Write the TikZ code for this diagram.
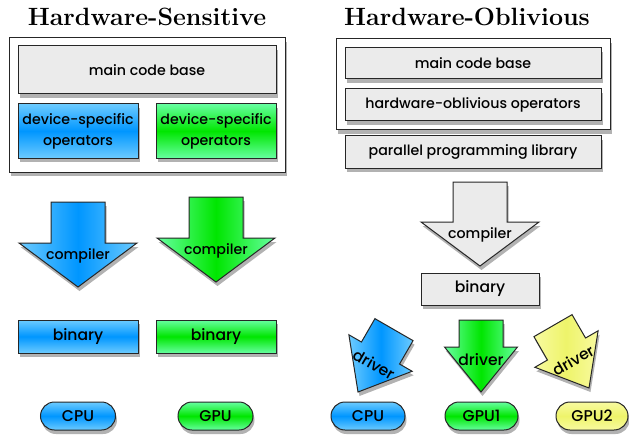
\documentclass[tikz,border=0pt]{standalone}
\usepackage{fontspec}
\newfontfamily\lab{Poppins}[UprightFont=* Medium]
\usetikzlibrary{shadows}
\definecolor{bmid}{HTML}{0096FF}
\definecolor{bedge}{HTML}{6CCBFF}
\definecolor{gmid}{HTML}{00E600}
\definecolor{gedge}{HTML}{66FFA0}
\definecolor{ymid}{HTML}{EEF46A}
\definecolor{yedge}{HTML}{F8FAA0}
\definecolor{gry}{HTML}{EBEBEB}
\tikzset{
  shd/.style={drop shadow={shadow xshift=1.5pt,shadow yshift=-4pt,fill=black,opacity=0.3}},
  lbl/.style={font=\lab\fontsize{14.2}{21}\selectfont, align=center, text=black},
  big/.style={font=\lab\fontsize{15.6}{18}\selectfont},
  plain/.style={lbl, draw=black!85, line width=1pt, inner sep=0pt, shd},
  graybox/.style={plain, fill=gry},
  bluebox/.style={plain, top color=bedge, bottom color=bedge, middle color=bmid},
  greenbox/.style={plain, top color=gedge, bottom color=gedge, middle color=gmid},
  yellowbox/.style={plain, top color=yedge, bottom color=yedge, middle color=ymid},
  pill/.style={big, minimum width=75pt, minimum height=28pt, rounded corners=14pt},
  title/.style={font=\bfseries\fontsize{25}{28}\selectfont},
  arrowfill/.style={draw=black!85, line width=1pt, shd},
  bluearr/.style={arrowfill, left color=bedge, right color=bedge, middle color=bmid},
  greenarr/.style={arrowfill, left color=gedge, right color=gedge, middle color=gmid},
  grayarr/.style={arrowfill, fill=gry},
  yellowarr/.style={arrowfill, left color=yedge, right color=yedge, middle color=ymid},
}
% #1 tip x, #2 tip y, #3 angle, #4 shaft width, #5 head width, #6 shaft len, #7 head len, #8 style, #9 label
\newcommand\fatarrow[9]{%
  \begin{scope}[shift={(#1,#2)}, rotate=#3]
    \path[#8] (-#4/2,-#6-#7) -- (#4/2,-#6-#7) -- (#4/2,-#7) -- (#5/2,-#7) -- (0,0)
      -- (-#5/2,-#7) -- (-#4/2,-#7) -- cycle;
    \node[lbl, rotate=#3] at (0,-#7+13) {#9};
  \end{scope}}
\newcommand\drv{{\fontsize{15.6}{18}\selectfont driver}}
\begin{document}
\begin{tikzpicture}[x=1pt,y=-1pt]
\useasboundingbox (0,0) rectangle (629,441);
% titles
\node[title] (tl) at (147,17) {Hardware-Sensitive};
\node[title] (tr) at (467,17) {Hardware-Oblivious};
% left panel
\node[plain, fill=white, minimum width=276pt, minimum height=134pt] (outerL) at (147,105) {};
\node[graybox, minimum width=258pt, minimum height=48pt] (mainL) at (147,70) {main code base};
\node[bluebox, minimum width=120pt, minimum height=54pt] (devB) at (78,131) {device-specific\\operators};
\node[greenbox, minimum width=120pt, minimum height=54pt] (devG) at (216,131) {device-specific\\operators};
\fatarrow{78}{287}{0}{54}{118}{41}{44}{bluearr}{compiler}
\fatarrow{216}{282}{0}{54}{118}{41}{44}{greenarr}{compiler}
\node[bluebox, big, minimum width=120pt, minimum height=33pt] (binB) at (78,336.5) {binary};
\node[greenbox, big, minimum width=120pt, minimum height=33pt] (binG) at (216,336.5) {binary};
\node[bluebox, pill] (cpuL) at (78,416) {CPU};
\node[greenbox, pill] (gpuL) at (215.5,416) {GPU};
% right panel
\node[plain, fill=white, minimum width=274pt, minimum height=91pt] (outerR) at (473,84.5) {};
\node[graybox, minimum width=256pt, minimum height=31pt] (mainR) at (473,63.5) {main code base};
\node[graybox, minimum width=256pt, minimum height=32pt] (hwo) at (473,105) {hardware-oblivious operators};
\node[graybox, minimum width=256pt, minimum height=32pt] (ppl) at (473,152) {parallel programming library};
\fatarrow{480}{266}{0}{54}{118}{40}{44}{grayarr}{compiler}
\node[graybox, big, minimum width=118pt, minimum height=32pt] (binR) at (480,289) {binary};
\fatarrow{358}{392}{-30}{44}{73}{27}{45}{bluearr}{\drv}
\fatarrow{481}{392}{0}{44}{73}{27}{45}{greenarr}{\drv}
\fatarrow{589}{388}{30}{44}{73}{27}{45}{yellowarr}{\drv}
\node[bluebox, pill, minimum width=74pt] (cpuR) at (368,416) {CPU};
\node[greenbox, pill, minimum width=73pt] (gpu1) at (481.5,416) {GPU1};
\node[yellowbox, pill, minimum width=72pt] (gpu2) at (592,416) {GPU2};
\end{tikzpicture}
\end{document}
